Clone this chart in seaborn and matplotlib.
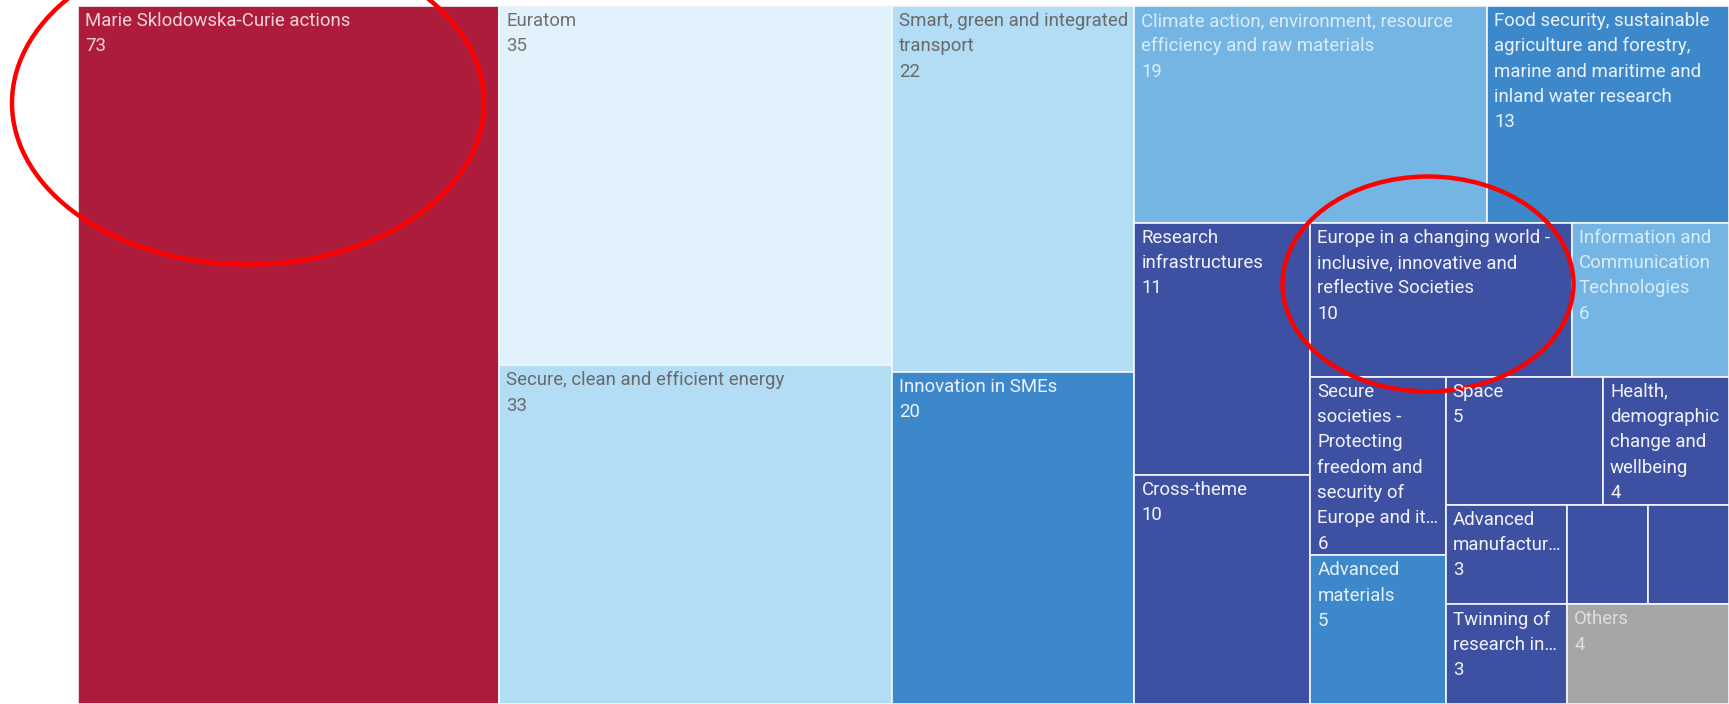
import matplotlib
matplotlib.use('Agg')
import matplotlib.pyplot as plt
from matplotlib.patches import Rectangle, Ellipse
import seaborn as sns


# Horizon 2020 - participations per programme part (Others kept last)
names = [
    'Marie Sklodowska-Curie actions',
    'Euratom',
    'Secure, clean and efficient energy',
    'Smart, green and integrated transport',
    'Innovation in SMEs',
    'Climate action, environment, resource efficiency and raw materials',
    'Food security, sustainable agriculture and forestry, marine and maritime and inland water research',
    'Research infrastructures',
    'Cross-theme',
    'Europe in a changing world - inclusive, innovative and reflective Societies',
    'Information and Communication Technologies',
    'Secure societies - Protecting freedom and security of Europe and its citizens',
    'Advanced materials',
    'Space',
    'Health, demographic change and wellbeing',
    'Advanced manufacturing and processing',
    'Twinning of research institutions',
    'Science with and for Society',
    'Spreading excellence and widening participation',
    'Others',
]

# label text as shown in the tiles (wrapped / truncated)
labels = [
    'Marie Sklodowska-Curie actions',
    'Euratom',
    'Secure, clean and efficient energy',
    'Smart, green and integrated\ntransport',
    'Innovation in SMEs',
    'Climate action, environment, resource\nefficiency and raw materials',
    'Food security, sustainable\nagriculture and forestry,\nmarine and maritime and\ninland water research',
    'Research\ninfrastructures',
    'Cross-theme',
    'Europe in a changing world -\ninclusive, innovative and\nreflective Societies',
    'Information and\nCommunication\nTechnologies',
    'Secure\nsocieties -\nProtecting\nfreedom and\nsecurity of\nEurope and it\u2026',
    'Advanced\nmaterials',
    'Space',
    'Health,\ndemographic\nchange and\nwellbeing',
    'Advanced\nmanufactur\u2026',
    'Twinning of\nresearch in\u2026',
    '',
    '',
    'Others',
]

values = [73, 35, 33, 22, 20, 19, 13, 11, 10, 10, 6, 6, 5, 5, 4, 3, 3, 2, 2, 4]

crimson = '#ad1d3b'
pale = '#e2f2fc'
light = '#b3dcf5'
mid = '#74b5e3'
medium = '#3d88cb'
dark = '#3e50a2'
grey = '#a6a6a6'

colors = [crimson, pale, light, light, medium, mid, medium, dark, dark, dark,
          mid, dark, medium, dark, dark, dark, dark, dark, dark, grey]

text_colors = ['#f3d2da', '#707070', '#6a6a6a', '#6a6a6a', '#eaf2fb', '#d9ecf9',
               '#eaf2fb', '#f2f3fa', '#f2f3fa', '#f2f3fa', '#d9ecf9', '#f2f3fa',
               '#e3effa', '#f2f3fa', '#f2f3fa', '#f2f3fa', '#f2f3fa', '#f2f3fa',
               '#f2f3fa', '#dedede']


# squarified treemap layout (Bruls et al.)
def normalize_sizes(sizes, dx, dy):
    total = sum(sizes)
    return [s * dx * dy / total for s in sizes]


def layout_row(sizes, x, y, dx, dy):
    # one column along the left side
    width = sum(sizes) / dy
    rects = []
    for s in sizes:
        h = s / width
        rects.append((x, y, width, h))
        y += h
    return rects


def layout_col(sizes, x, y, dx, dy):
    # one row along the top
    height = sum(sizes) / dx
    rects = []
    for s in sizes:
        w = s / height
        rects.append((x, y, w, height))
        x += w
    return rects


def layout(sizes, x, y, dx, dy):
    if dx >= dy:
        return layout_row(sizes, x, y, dx, dy)
    return layout_col(sizes, x, y, dx, dy)


def leftover(sizes, x, y, dx, dy):
    covered = sum(sizes)
    if dx >= dy:
        w = covered / dy
        return x + w, y, dx - w, dy
    h = covered / dx
    return x, y + h, dx, dy - h


def worst_ratio(sizes, x, y, dx, dy):
    return max(max(w / h, h / w) for _, _, w, h in layout(sizes, x, y, dx, dy))


def squarify(sizes, x, y, dx, dy):
    if not sizes:
        return []
    if len(sizes) == 1:
        return layout(sizes, x, y, dx, dy)
    i = 1
    while i < len(sizes) and worst_ratio(sizes[:i], x, y, dx, dy) >= worst_ratio(sizes[:i + 1], x, y, dx, dy):
        i += 1
    current, remaining = sizes[:i], sizes[i:]
    return layout(current, x, y, dx, dy) + squarify(remaining, *leftover(current, x, y, dx, dy))


sns.set_theme(style='white')
font = ['Roboto', 'DejaVu Sans']
plt.rcParams['font.family'] = font

W_PX, H_PX = 1729, 704
fig = plt.figure(figsize=(W_PX / 100, H_PX / 100), dpi=100)
ax = fig.add_axes([0, 0, 1, 1])
ax.set_xlim(0, W_PX)
ax.set_ylim(H_PX, 0)
ax.axis('off')

# plotting area of the treemap
x0, y0, dx, dy = 78, 6, 1651, 698
rects = squarify(normalize_sizes(values, dx, dy), x0, y0, dx, dy)

for (x, y, w, h), lab, v, c, tc in zip(rects, labels, values, colors, text_colors):
    ax.add_patch(Rectangle((x, y), w, h, facecolor=c, edgecolor='#f4f8fd', linewidth=1.2))
    if w < 100 or not lab:
        continue
    ax.text(x + 7, y + 6, lab + '\n' + str(v), ha='left', va='top', fontsize=13.4,
            color=tc, linespacing=1.52, family=font)

# red highlight rings
ax.add_patch(Ellipse((248, 103), 472, 323, fill=False, edgecolor='#ff0000', linewidth=3.2))
ax.add_patch(Ellipse((1428, 284), 291, 215, fill=False, edgecolor='#ff0000', linewidth=3.2))

fig.savefig('out.png', dpi=100)
